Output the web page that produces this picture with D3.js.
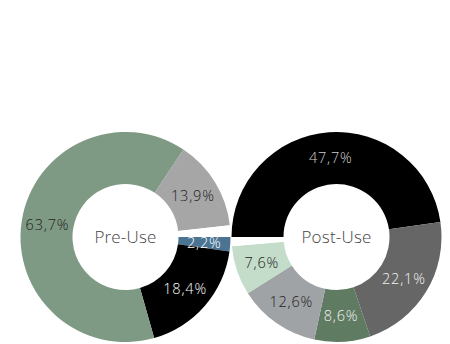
<!DOCTYPE html>
<html>
<head>
<meta charset="utf-8">
<script src="https://cdn.jsdelivr.net/npm/d3@7"></script>
<style>
  html, body { margin: 0; padding: 0; background: #fff; }
  svg { display: block; }
  text { font-family: "Open Sans", Lato, sans-serif; font-weight: 300; }
</style>
</head>
<body>
<svg id="chart" width="450" height="344"></svg>
<script>
// Pre-Use donut
const preLabels = ["2,2%", "18,4%", "63,7%", "13,9%", ""];
const preValues = [2.2, 18.4, 63.7, 13.9, 1.8];
const preColors = ["#4b7493", "#000000", "#7f9a84", "#a6a6a6", "#ffffff"];
const preTextColors = ["#ffffff", "#ffffff", "#1e1e1e", "#1e1e1e", "#000"];
const preTitle = "Pre-Use";

// Post-Use donut
const postLabels = ["47,7%", "22,1%", "8,6%", "12,6%", "7,6%", ""];
const postValues = [47.7, 22.1, 8.6, 12.6, 7.6, 1.4];
const postColors = ["#000000", "#666666", "#5f7b62", "#a0a3a6", "#c4dcca", "#ffffff"];
const postTextColors = ["#cfcfcf", "#f2f2f2", "#f2f2f2", "#222222", "#222222", "#000"];
const postTitle = "Post-Use";

const svg = d3.select("#chart");
const outerR = 105, innerR = 53;
const cy = 237;

const xPos = d3.scalePoint().domain(["pre", "post"]).range([125.5, 336.5]);

function donut(key, labels, values, colors, textColors, title, startAngle) {
  const data = values.map((v, i) => ({ label: labels[i], value: v, color: colors[i], tc: textColors[i] }));
  const pie = d3.pie().sort(null).value(d => d.value)
    .startAngle(startAngle).endAngle(startAngle + 2 * Math.PI);
  const arc = d3.arc().innerRadius(innerR).outerRadius(outerR);
  const g = svg.append("g").attr("transform", `translate(${xPos(key)},${cy})`);
  const arcs = pie(data);
  g.selectAll("path").data(arcs).join("path")
    .attr("d", arc)
    .attr("fill", d => d.data.color);
  g.selectAll("text.lbl").data(arcs.filter(d => d.data.label)).join("text")
    .attr("class", "lbl")
    .attr("transform", d => `translate(${arc.centroid(d)})`)
    .attr("text-anchor", "middle")
    .attr("dy", "0.36em")
    .attr("font-size", 14.5)
    .attr("letter-spacing", 0.8)
    .attr("fill", d => d.data.tc)
    .text(d => d.data.label);
  g.append("text")
    .attr("text-anchor", "middle")
    .attr("dy", "0.36em")
    .attr("font-size", 17)
    .attr("letter-spacing", 0.2)
    .attr("fill", "#444")
    .text(title);
}

donut("pre", preLabels, preValues, preColors, preTextColors, preTitle, Math.PI / 2);
donut("post", postLabels, postValues, postColors, postTextColors, postTitle, -Math.PI / 2);
</script>
</body>
</html>
